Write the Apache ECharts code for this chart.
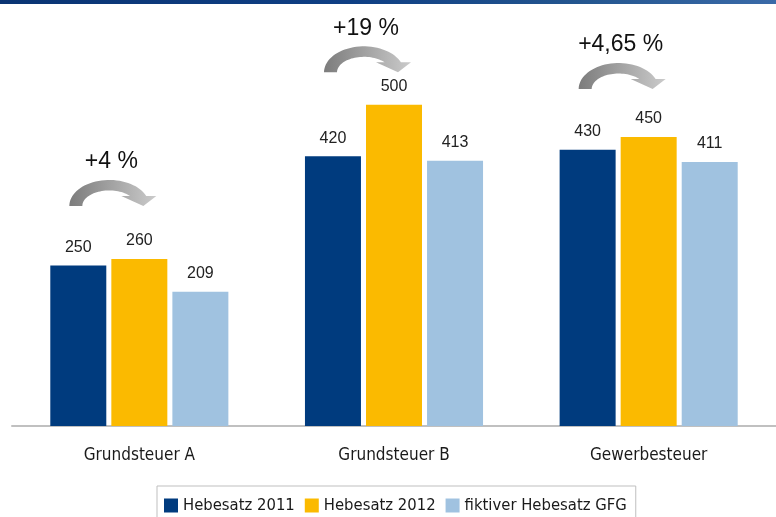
<!DOCTYPE html>
<html>
<head>
<meta charset="utf-8">
<script src="https://cdn.jsdelivr.net/npm/echarts@6/dist/echarts.min.js"></script>
<style>
html,body{margin:0;padding:0;background:#fff;}
#chart{width:776px;height:517px;}
</style>
</head>
<body>
<div id="chart"></div>
<script>
const categories = ['Grundsteuer A', 'Grundsteuer B', 'Gewerbesteuer'];
const seriesNames = ['Hebesatz 2011', 'Hebesatz 2012', 'fiktiver Hebesatz GFG'];
const hebesatz2011 = [250, 420, 430];
const hebesatz2012 = [260, 500, 450];
const fiktiverGFG = [209, 413, 411];
const changeLabels = ['+4 %', '+19 %', '+4,65 %'];
const changeLevels = [383, 591, 565];

const colors = ['#003b7e', '#fbba00', '#a0c2e0'];
const narrow = '"Liberation Sans Narrow", "DejaVu Sans Condensed", sans-serif';

// curved-down arrow outline in local pixel units (shape only)
const arrowOutline = (function () {
  const pts = [];
  const cx = 40, cy = 26;
  const oRx = 40, oRy = 26, iRx = 27, iRy = 15.5;
  const baseY = 16;
  const tO = Math.asin((cy - baseY) / oRy);
  const tI = Math.asin((cy - baseY) / iRy);
  const n = 36;
  for (let i = 0; i <= n; i++) {
    const t = Math.PI - (Math.PI - tO) * i / n;
    pts.push([cx + oRx * Math.cos(t), cy - oRy * Math.sin(t)]);
  }
  pts.push([87, baseY]);
  pts.push([74, 26]);
  pts.push([52, baseY]);
  for (let i = 0; i <= n; i++) {
    const t = tI + (Math.PI - tI) * i / n;
    pts.push([cx + iRx * Math.cos(t), cy - iRy * Math.sin(t)]);
  }
  return pts;
})();

const chart = echarts.init(document.getElementById('chart'), null, {renderer: 'canvas'});

function barSeries(name, data, color) {
  return {
    name: name,
    type: 'bar',
    data: data,
    barWidth: 56,
    barGap: '9%',
    itemStyle: {color: color},
    label: {
      show: true,
      position: 'top',
      distance: 10,
      color: '#222',
      fontSize: 16,
      fontFamily: '"Liberation Sans", Arial, sans-serif'
    }
  };
}

const option = {
  animation: false,
  backgroundColor: '#fff',
  graphic: [{
    type: 'rect',
    left: 0, top: 0,
    shape: {width: 776, height: 4},
    style: {
      fill: new echarts.graphic.LinearGradient(0, 0, 1, 0, [
        {offset: 0, color: '#0a3473'},
        {offset: 0.45, color: '#0f3f84'},
        {offset: 0.75, color: '#24568f'},
        {offset: 1, color: '#3a6aa8'}
      ])
    },
    z: 100
  }],
  grid: {left: 12, right: -10, top: 2, bottom: 91, containLabel: false},
  legend: {
    data: seriesNames,
    left: 157,
    top: 486,
    orient: 'horizontal',
    icon: 'rect',
    itemWidth: 14,
    itemHeight: 14,
    itemGap: 10,
    padding: [11, 9, 12, 7],
    borderColor: '#bfbfbf',
    borderWidth: 1,
    textStyle: {color: '#1a1a1a', fontSize: 16.5, fontFamily: narrow}
  },
  xAxis: {
    type: 'category',
    data: categories,
    axisLine: {show: true, lineStyle: {color: '#c0c0c0', width: 2}},
    axisTick: {show: false},
    axisLabel: {margin: 21, color: '#1a1a1a', fontSize: 17, fontFamily: narrow}
  },
  yAxis: {
    type: 'value',
    min: 0,
    max: 660,
    show: false,
    splitLine: {show: false}
  },
  series: [
    barSeries(seriesNames[0], hebesatz2011, colors[0]),
    barSeries(seriesNames[1], hebesatz2012, colors[1]),
    barSeries(seriesNames[2], fiktiverGFG, colors[2]),
    {
      type: 'custom',
      name: 'change',
      silent: true,
      z: 10,
      data: changeLevels.map((v, i) => [i, v]),
      renderItem: function (params, api) {
        const p = api.coord([api.value(0), api.value(1)]);
        const left = p[0] - 70;
        const top = p[1];
        const pts = arrowOutline.map(q => [left + q[0], top + q[1]]);
        return {
          type: 'group',
          children: [
            {
              type: 'polygon',
              shape: {points: pts},
              style: {
                fill: new echarts.graphic.LinearGradient(0, 0, 1, 0, [
                  {offset: 0, color: '#7c7c7c'},
                  {offset: 1, color: '#cbcbcb'}
                ])
              }
            },
            {
              type: 'text',
              x: p[0] - 28,
              y: top - 18,
              style: {
                text: changeLabels[params.dataIndex],
                fill: '#111',
                fontSize: 23,
                fontFamily: '"Liberation Sans", Arial, sans-serif',
                align: 'center',
                verticalAlign: 'middle'
              }
            }
          ]
        };
      }
    }
  ]
};
chart.setOption(option);
</script>
</body>
</html>
